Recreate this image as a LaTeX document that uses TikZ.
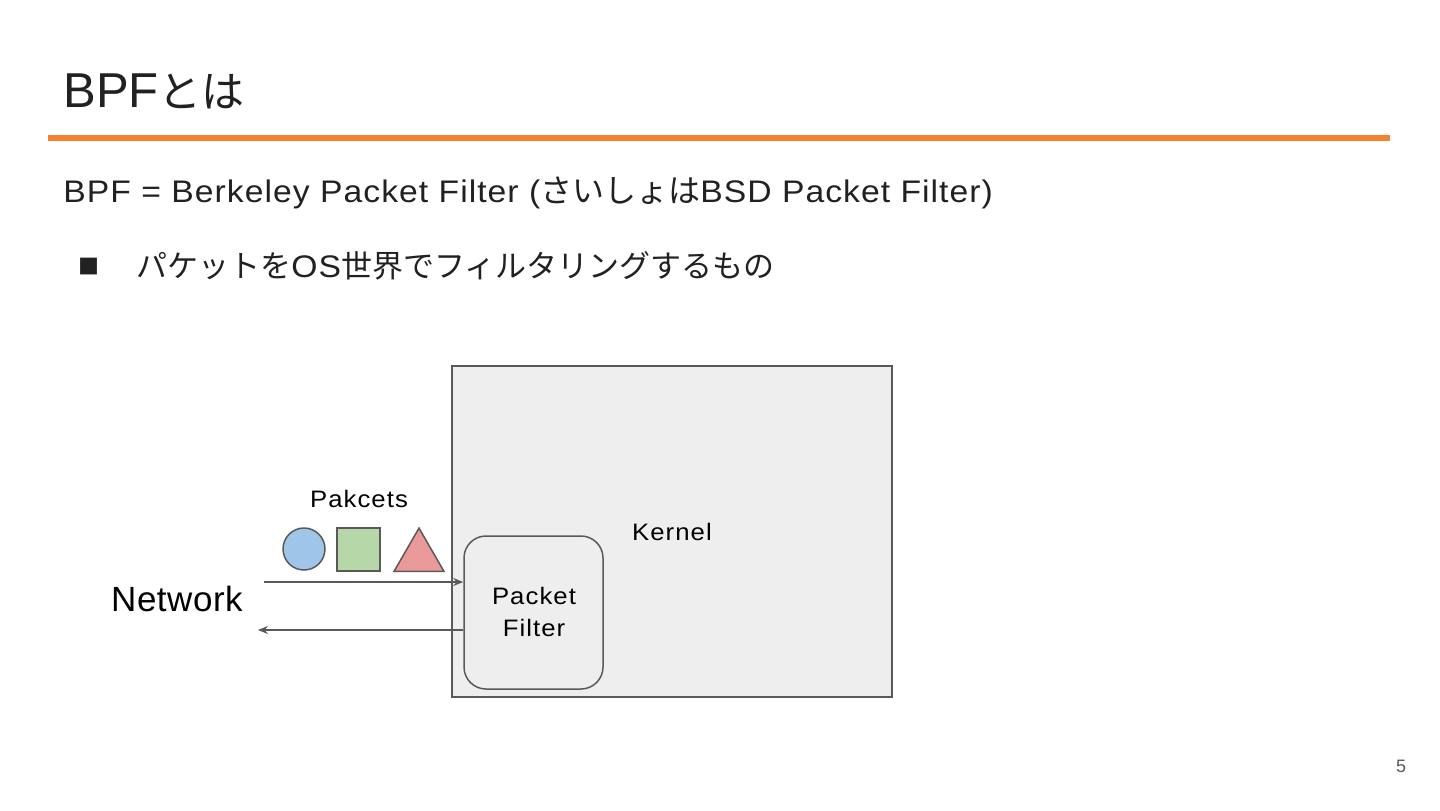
\documentclass[tikz,border=0pt]{standalone}
\usepackage{fontspec}
\setmainfont{Liberation Sans}
\newfontfamily\jp{Noto Sans CJK JP}
\usepackage{tikz}
\usetikzlibrary{arrows.meta, positioning, shapes.geometric}
\definecolor{slideorange}{HTML}{F4812F}
\definecolor{linegray}{HTML}{595959}
\definecolor{kernelfill}{HTML}{EEEEEE}
\definecolor{pktblue}{HTML}{9FC5E8}
\definecolor{pktgreen}{HTML}{B6D7A8}
\definecolor{pktred}{HTML}{EA9999}
\definecolor{textdark}{HTML}{212121}
\newcommand{\bodyfont}{\fontsize{15.6}{19}\selectfont\addfontfeatures{FakeStretch=1.08,LetterSpace=3.3}}
\newcommand{\jpbody}[1]{{\jp\fontsize{16}{19}\selectfont #1}}
\tikzset{
  slidetext/.style={anchor=base west,inner sep=0pt,text=textdark},
  boxnode/.style={draw=linegray,line width=0.75pt,fill=kernelfill,inner sep=0pt},
  pktshape/.style={draw=linegray,line width=0.75pt,inner sep=0pt},
  lbl/.style={inner sep=0pt,font=\fontsize{11.9}{16}\selectfont\addfontfeatures{FakeStretch=1.08,LetterSpace=4.5},text=black},
  flowarrow/.style={-{Stealth[length=5pt,width=4pt]},line width=0.7pt,linegray},
}

\begin{document}
\begin{tikzpicture}[x=0.5pt,y=-0.5pt]
  \useasboundingbox (0,0) rectangle (1440,810);
  % header
  \node[slidetext,font=\fontsize{24.5}{28}\selectfont] (title) at (63,107.5)
    {BPF{\jp\fontsize{21.5}{28}\selectfont とは}};
  \fill[slideorange] (48,135) rectangle (1390,141);
  \node[slidetext,font=\bodyfont] (defline) at (63,202.5)
    {BPF = Berkeley Packet Filter (\jpbody{さいしょは}BSD Packet Filter)};
  \node[slidetext,font=\jp\fontsize{10.5}{12}\selectfont] (bullet) at (78,274.5) {■};
  \node[slidetext,font=\bodyfont] (point) at (136,277)
    {{\jp\fontsize{15.5}{19}\selectfont パケットを}OS{\jp\fontsize{15.5}{19}\selectfont 世界でフィルタリングするもの}};
  % kernel and filter
  \node[boxnode,minimum width=220pt,minimum height=165.5pt] (kernel) at (672,531.5) {};
  \node[lbl] (kernlbl) at (672,532) {Kernel};
  \node[boxnode,rounded corners=11pt,minimum width=69.5pt,minimum height=76.5pt] (pf) at (533.5,612.5) {};
  \node[lbl,align=center] (pflbl) at (534,612) {Packet\\Filter};
  % packets
  \node[lbl] (pktlbl) at (359,499) {Pakcets};
  \node[pktshape,circle,fill=pktblue,minimum size=21pt] (pcirc) at (304,549) {};
  \node[pktshape,fill=pktgreen,minimum size=21.5pt] (psq) at (358.5,549.5) {};
  \node[pktshape,regular polygon,regular polygon sides=3,fill=pktred,minimum size=28.9pt] (ptri) at (419,557) {};
  % network
  \node[anchor=base,inner sep=0pt,font=\fontsize{17.5}{20}\selectfont\addfontfeatures{LetterSpace=1.5},text=black] (net) at (177,611.5) {Network};
  \coordinate (netin) at (264,582);
  \coordinate (netout) at (258,630);
  \draw[flowarrow] (netin) -- (netin -| pf.west);
  \draw[flowarrow] (netout -| pf.west) -- (netout);
  % page number
  \node[inner sep=0pt,font=\fontsize{9}{11}\selectfont,text=linegray] (pageno) at (1401,766) {5};
\end{tikzpicture}
\end{document}
